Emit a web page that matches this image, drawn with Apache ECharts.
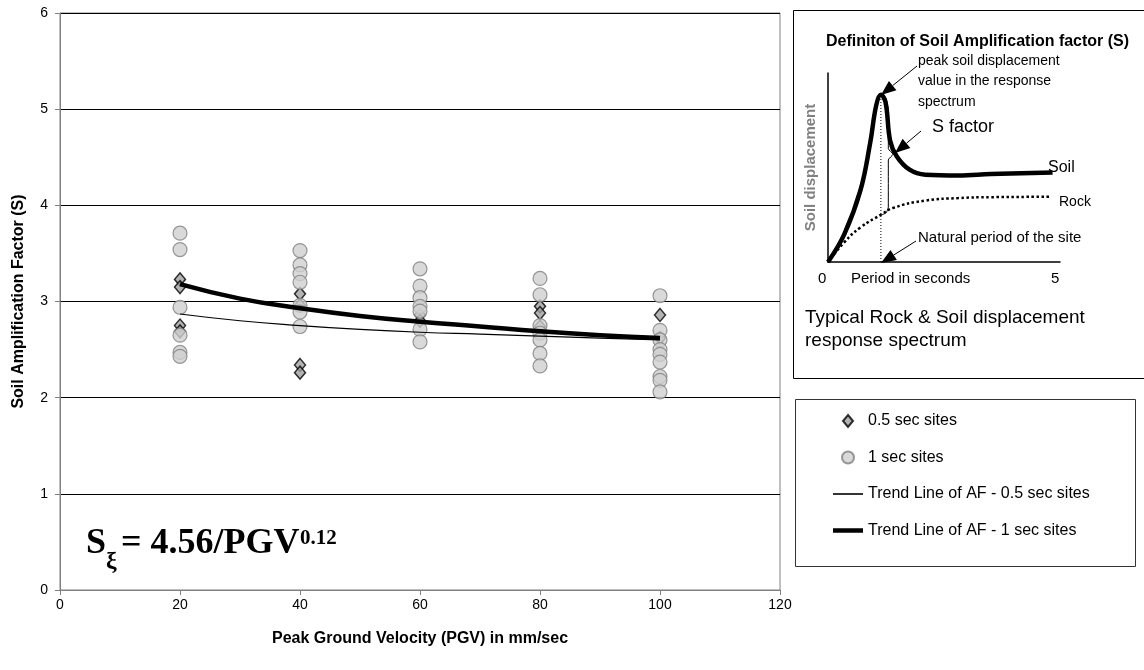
<!DOCTYPE html>
<html>
<head>
<meta charset="utf-8">
<script src="https://cdn.jsdelivr.net/npm/echarts@6/dist/echarts.min.js"></script>
<style>html,body{margin:0;padding:0;background:#fff;}#c{width:1144px;height:670px;}</style>
</head>
<body>
<div id="c"></div>
<script>
// ---- main chart data ----
var xTicks = [0, 20, 40, 60, 80, 100, 120];
var yTicks = [0, 1, 2, 3, 4, 5, 6];
var sites05 = [
  [20, 3.23], [20, 3.15], [20, 2.75], [20, 2.69],
  [40, 3.08], [40, 2.96], [40, 2.34], [40, 2.26],
  [60, 2.86], [60, 2.80],
  [80, 2.95], [80, 2.88], [80, 2.74],
  [100, 2.86], [100, 2.62]
];
var sites1 = [
  [20, 3.71], [20, 3.54], [20, 2.94], [20, 2.65], [20, 2.47], [20, 2.43],
  [40, 3.53], [40, 3.38], [40, 3.29], [40, 3.20], [40, 2.96], [40, 2.89], [40, 2.74],
  [60, 3.34], [60, 3.16], [60, 3.04], [60, 2.95], [60, 2.90], [60, 2.71], [60, 2.58],
  [80, 3.24], [80, 3.07], [80, 2.75], [80, 2.67], [80, 2.60], [80, 2.46], [80, 2.33],
  [100, 3.06], [100, 2.70], [100, 2.60], [100, 2.50], [100, 2.45], [100, 2.37], [100, 2.22], [100, 2.18], [100, 2.06]
];
var trendX = [20, 30, 40, 50, 60, 70, 80, 90, 100];
var trend05 = [2.87, 2.80, 2.75, 2.71, 2.68, 2.66, 2.64, 2.62, 2.60];
var trend1 = [3.18, 3.03, 2.93, 2.85, 2.79, 2.74, 2.69, 2.65, 2.62];

// ---- inset schematic data (period s, relative displacement) ----
var soilCurve = [[0, 0], [0.35, 0.146], [0.70, 0.38], [0.91, 0.632], [1.04, 0.83], [1.14, 0.885],
  [1.24, 0.845], [1.34, 0.64], [1.48, 0.56], [1.75, 0.49], [2.10, 0.462], [2.81, 0.458], [3.51, 0.465], [4.84, 0.474]];
var rockCurve = [[0, 0], [0.35, 0.104], [0.70, 0.183], [1.14, 0.25], [1.40, 0.286], [2.10, 0.325],
  [2.81, 0.338], [3.51, 0.343], [4.81, 0.345]];
var naturalPeriod = [[1.14, 0], [1.14, 0.885]];
var brace = [[1.14, 0.885], [1.24, 0.87], [1.30, 0.80], [1.30, 0.60], [1.40, 0.57], [1.30, 0.54], [1.30, 0.29], [1.25, 0.26], [1.16, 0.25]];

var names = ['0.5 sec sites', '1 sec sites', 'Trend Line of AF - 0.5 sec sites', 'Trend Line of AF - 1 sec sites'];

function zip(xs, ys) { return xs.map(function (x, i) { return [x, ys[i]]; }); }

var FONT = 'Liberation Sans';

function arrow(sx, sy, tx, ty) {
  var dx = tx - sx, dy = ty - sy, L = Math.sqrt(dx * dx + dy * dy);
  var ux = dx / L, uy = dy / L, hl = 15, hw = 6;
  var bx = tx - ux * hl, by = ty - uy * hl;
  return [
    { type: 'line', shape: { x1: sx, y1: sy, x2: bx, y2: by }, style: { stroke: '#000', lineWidth: 1 } },
    { type: 'polygon', shape: { points: [[tx, ty], [bx - uy * hw, by + ux * hw], [bx + uy * hw, by - ux * hw]] }, style: { fill: '#000' } }
  ];
}
function txt(x, y, s, size, extra) {
  var st = { text: s, x: x, y: y, fontFamily: FONT, fontSize: size, fill: '#000', verticalAlign: 'middle', align: 'left' };
  if (extra) for (var k in extra) st[k] = extra[k];
  return { type: 'text', style: st, z: 100 };
}

var graphics = [
  { type: 'rect', shape: { x: 793.5, y: 10.5, width: 360, height: 368 }, style: { fill: 'none', stroke: '#000', lineWidth: 1 }, z: 50 },
  { type: 'rect', shape: { x: 795.5, y: 399.5, width: 340, height: 167 }, style: { fill: 'none', stroke: '#333', lineWidth: 1 }, z: 50 },
  txt(826, 42, 'Definiton of Soil Amplification factor (S)', 16, { fontWeight: 'bold' }),
  txt(918, 61, 'peak soil displacement', 14),
  txt(918, 81, 'value in the response', 14),
  txt(918, 102, 'spectrum', 14),
  txt(932, 127, 'S factor', 18),
  txt(1048, 168, 'Soil', 16),
  txt(1059, 202, 'Rock', 14),
  txt(918, 238, 'Natural period of the site', 15),
  txt(818, 279, '0', 15),
  txt(851, 279, 'Period in seconds', 15),
  txt(1051, 279, '5', 15),
  txt(805, 318, 'Typical Rock & Soil displacement', 19),
  txt(805, 341, 'response spectrum', 19),
  // formula
  { type: 'text', style: { text: 'S', x: 86, y: 562, fontFamily: 'Liberation Serif', fontWeight: 'bold', fontSize: 36, fill: '#000', verticalAlign: 'bottom' }, z: 100 },
  { type: 'text', style: { text: 'ξ', x: 106, y: 574, fontFamily: 'Liberation Serif', fontWeight: 'bold', fontSize: 24, fill: '#000', verticalAlign: 'bottom' }, z: 100 },
  { type: 'text', style: { text: '= 4.56/PGV', x: 121, y: 562, fontFamily: 'Liberation Serif', fontWeight: 'bold', fontSize: 36, fill: '#000', verticalAlign: 'bottom' }, z: 100 },
  { type: 'text', style: { text: '0.12', x: 300, y: 549, fontFamily: 'Liberation Serif', fontWeight: 'bold', fontSize: 21, fill: '#000', verticalAlign: 'bottom' }, z: 100 }
].concat(arrow(917, 66, 881, 95), arrow(921, 131, 895, 153), arrow(916, 241, 881, 263));

var chart = echarts.init(document.getElementById('c'), null, { renderer: 'canvas' });
chart.setOption({
  animation: false,
  backgroundColor: '#fff',
  textStyle: { fontFamily: FONT },
  grid: [
    { left: 60, top: 13, width: 720, height: 577, show: true, borderColor: '#808080', borderWidth: 1, backgroundColor: '#fff' },
    { left: 828, top: 73, width: 232, height: 189, show: false }
  ],
  xAxis: [
    {
      type: 'value', gridIndex: 0, min: xTicks[0], max: xTicks[xTicks.length - 1], interval: 20,
      name: 'Peak Ground Velocity (PGV) in mm/sec', nameLocation: 'middle', nameGap: 41,
      nameTextStyle: { fontFamily: FONT, fontWeight: 'bold', fontSize: 16, color: '#000' },
      axisLine: { show: true, lineStyle: { color: '#808080', width: 1 } },
      axisTick: { show: true, inside: false, length: 5, lineStyle: { color: '#808080' } },
      axisLabel: { fontFamily: FONT, fontSize: 14, color: '#000', margin: 8 },
      splitLine: { show: false }
    },
    {
      type: 'value', gridIndex: 1, min: 0, max: 5,
      axisLine: { show: true, onZero: false, lineStyle: { color: '#000', width: 1.5 } },
      axisTick: { show: false }, axisLabel: { show: false }, splitLine: { show: false }
    }
  ],
  yAxis: [
    {
      type: 'value', gridIndex: 0, min: yTicks[0], max: yTicks[yTicks.length - 1], interval: 1,
      name: 'Soil Amplification Factor (S)', nameLocation: 'middle', nameGap: 33,
      nameTextStyle: { fontFamily: FONT, fontWeight: 'bold', fontSize: 16, color: '#000' },
      axisLine: { show: true, lineStyle: { color: '#808080', width: 1 } },
      axisTick: { show: true, inside: false, length: 5, lineStyle: { color: '#808080' } },
      axisLabel: { fontFamily: FONT, fontSize: 14, color: '#000', margin: 12 },
      splitLine: { show: true, lineStyle: { color: '#000', width: 1 } }
    },
    {
      type: 'value', gridIndex: 1, min: 0, max: 1,
      name: 'Soil displacement', nameLocation: 'middle', nameGap: 10,
      nameTextStyle: { fontFamily: FONT, fontSize: 15, color: '#808080', fontWeight: 'bold' },
      axisLine: { show: true, onZero: false, lineStyle: { color: '#000', width: 1.5 } },
      axisTick: { show: false }, axisLabel: { show: false }, splitLine: { show: false }
    }
  ],
  legend: {
    data: [
      { name: names[0], icon: 'path://M5,0L10,6L5,12L0,6Z' },
      { name: names[1], icon: 'circle' },
      { name: names[2], icon: 'path://M0,0L30,0L30,1.6L0,1.6Z', itemStyle: { color: '#000', borderWidth: 0 } },
      { name: names[3], icon: 'path://M0,0L30,0L30,4.5L0,4.5Z', itemStyle: { color: '#000', borderWidth: 0 } }
    ],
    symbolKeepAspect: true,
    orient: 'vertical', left: 828, top: 408, itemWidth: 30, itemHeight: 12, itemGap: 20.5,
    textStyle: { fontFamily: FONT, fontSize: 16, color: '#000' }
  },
  graphic: graphics,
  series: [
    {
      name: names[0], type: 'scatter', xAxisIndex: 0, yAxisIndex: 0, data: sites05,
      symbol: 'diamond', symbolSize: [11, 13], z: 3,
      itemStyle: { color: '#a0a0a0', borderColor: '#000', borderWidth: 1.5 }
    },
    {
      name: names[1], type: 'scatter', xAxisIndex: 0, yAxisIndex: 0, data: sites1,
      symbol: 'circle', symbolSize: 14, z: 4,
      itemStyle: { color: '#d0d0d0', borderColor: '#808080', borderWidth: 1.2 }
    },
    {
      name: names[2], type: 'line', xAxisIndex: 0, yAxisIndex: 0, data: zip(trendX, trend05),
      smooth: true, symbol: 'none', z: 5, itemStyle: { color: '#000' }, lineStyle: { color: '#000', width: 1.2 }
    },
    {
      name: names[3], type: 'line', xAxisIndex: 0, yAxisIndex: 0, data: zip(trendX, trend1),
      smooth: true, symbol: 'none', z: 6, itemStyle: { color: '#000' }, lineStyle: { color: '#000', width: 4.5 }
    },
    {
      name: 'soil', type: 'line', xAxisIndex: 1, yAxisIndex: 1, data: soilCurve, smooth: 0.4,
      symbol: 'none', lineStyle: { color: '#000', width: 4.5 }, z: 5
    },
    {
      name: 'rock', type: 'line', xAxisIndex: 1, yAxisIndex: 1, data: rockCurve, smooth: true,
      symbol: 'none', lineStyle: { color: '#000', width: 2.5, type: 'dotted' }, z: 5
    },
    {
      name: 'period', type: 'line', xAxisIndex: 1, yAxisIndex: 1, data: naturalPeriod,
      symbol: 'none', lineStyle: { color: '#000', width: 1, type: [1, 2] }, z: 4
    },
    {
      name: 'brace', type: 'line', xAxisIndex: 1, yAxisIndex: 1, data: brace, smooth: 0.2,
      symbol: 'none', lineStyle: { color: '#000', width: 1 }, z: 4
    }
  ]
});
</script>
</body>
</html>
